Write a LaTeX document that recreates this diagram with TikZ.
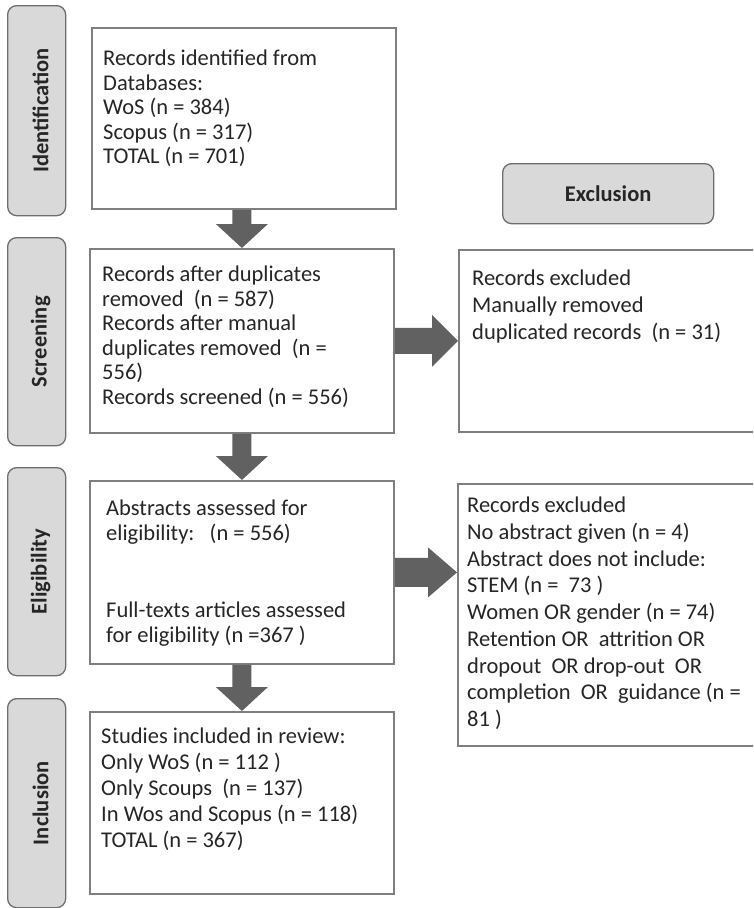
\documentclass[tikz,border=0pt]{standalone}
\usepackage{fontspec}
\setmainfont{Carlito}
\usetikzlibrary{calc}
\definecolor{arrowgray}{HTML}{616161}
\definecolor{boxline}{HTML}{7F7F7F}
\definecolor{phaseline}{HTML}{6E6E6E}
\definecolor{phasefill}{HTML}{D9D9D9}
\definecolor{txtgray}{HTML}{262626}
\newcommand\dnblockarrow[2]{%
  \fill[blockarrow] ($(#1.south -| #2.north)+(-9.5,0)$) -- ($(#1.south -| #2.north)+(9.5,0)$)
    -- ($(#2.north)+(9.5,-24)$) -- ($(#2.north)+(26,-24)$) -- (#2.north)
    -- ($(#2.north)+(-26,-24)$) -- ($(#2.north)+(-9.5,-24)$) -- cycle;}
\newcommand\rtblockarrow[5]{%
  \fill[blockarrow] ($(#1.east)+(0,-#3)$) -- ($(#1.east -| #2.west)+(-#5,-#3)$)
    -- ($(#1.east -| #2.west)+(-#5,-#4)$) -- (#1.east -| #2.west)
    -- ($(#1.east -| #2.west)+(-#5,#4)$) -- ($(#1.east -| #2.west)+(-#5,#3)$)
    -- ($(#1.east)+(0,#3)$) -- cycle;}
\begin{document}
\begin{tikzpicture}[x=1pt,y=-1pt,
  box/.style={draw=boxline, line width=1.8pt, fill=white, inner sep=0pt, anchor=north west},
  phase/.style={draw=phaseline, line width=1.3pt, fill=phasefill, rounded corners=9pt, inner sep=0pt, anchor=north west},
  boxtext/.style={anchor=north west, inner sep=0pt, align=left, text=txtgray, font=\fontsize{22.5}{24.5}\selectfont},
  widetext/.style={boxtext, font=\fontsize{22.5}{26.7}\selectfont},
  phasetext/.style={inner sep=0pt, text=txtgray, font=\fontsize{22.5}{27}\selectfont\bfseries},
  blockarrow/.style={fill=arrowgray}
]
\clip (0,0) rectangle (753,908);
\fill[white] (0,0) rectangle (753,908);

% phase labels
\node[phase, minimum width=58pt, minimum height=210pt] (phident) at (7,5) {};
\node[phase, minimum width=58pt, minimum height=208pt] (phscreen) at (7,237) {};
\node[phase, minimum width=58pt, minimum height=208pt] (phelig) at (7,467) {};
\node[phase, minimum width=58pt, minimum height=209pt] (phincl) at (7,698) {};
\node[phase, minimum width=211pt, minimum height=60pt] (phexcl) at (502,163) {};

\node[phasetext, rotate=90] at ($(phident.center)+(4,0)$) {Identification};
\node[phasetext, rotate=90] at ($(phscreen.center)+(4,0)$) {Screening};
\node[phasetext, rotate=90] at ($(phelig.center)+(4,0)$) {Eligibility};
\node[phasetext, rotate=90] at ($(phincl.center)+(4,0)$) {Inclusion};
\node[phasetext] at (phexcl.center) {Exclusion};

% main boxes
\node[box, minimum width=304pt, minimum height=181pt] (ident) at (91,27) {};
\node[box, minimum width=304pt, minimum height=184pt] (screen) at (89,248) {};
\node[box, minimum width=304pt, minimum height=183pt] (elig) at (89,480) {};
\node[box, minimum width=304pt, minimum height=182pt] (incl) at (89,711) {};
\node[box, minimum width=310pt, minimum height=182pt] (excla) at (458,249) {};
\node[box, minimum width=310pt, minimum height=262pt] (exclb) at (457,483) {};

% texts
\node[boxtext] (identtxt) at (103,50) {Records identified from\\Databases:\\WoS (n = 384)\\Scopus (n = 317)\\TOTAL (n = 701)};
\node[boxtext] (screentxt) at (102,266) {Records after duplicates\\removed\ \ (n = 587)\\Records after manual\\duplicates removed\ \ (n =\\556)\\Records screened (n = 556)};
\node[boxtext] (eligtxt) at (106,500) {Abstracts assessed for\\eligibility:\ \ \ (n = 556)\\[53pt]Full-texts articles assessed\\for eligibility (n =367 )};
\node[boxtext, font=\fontsize{22.5}{25.8}\selectfont] (incltxt) at (101,728) {Studies included in review:\\Only WoS (n = 112 )\\Only Scoups\ \ (n = 137)\\In Wos and Scopus (n = 118)\\TOTAL (n = 367)};
\node[widetext] (exclatxt) at (472,270) {Records excluded\\Manually removed\\duplicated records\ \ (n = 31)};
\node[widetext] (exclbtxt) at (467,497) {Records excluded\\No abstract given (n = 4)\\Abstract does not include:\\STEM (n =\ \ 73 )\\Women OR gender (n = 74)\\Retention OR\ \ attrition OR\\dropout\ \ OR drop-out\ \ OR\\completion\ \ OR\ \ guidance (n =\\81 )};

% arrows
\dnblockarrow{ident}{screen}
\dnblockarrow{screen}{elig}
\dnblockarrow{elig}{incl}
\rtblockarrow{screen}{excla}{13}{26}{26}
\rtblockarrow{elig}{exclb}{14.5}{25}{29}
\end{tikzpicture}
\end{document}
